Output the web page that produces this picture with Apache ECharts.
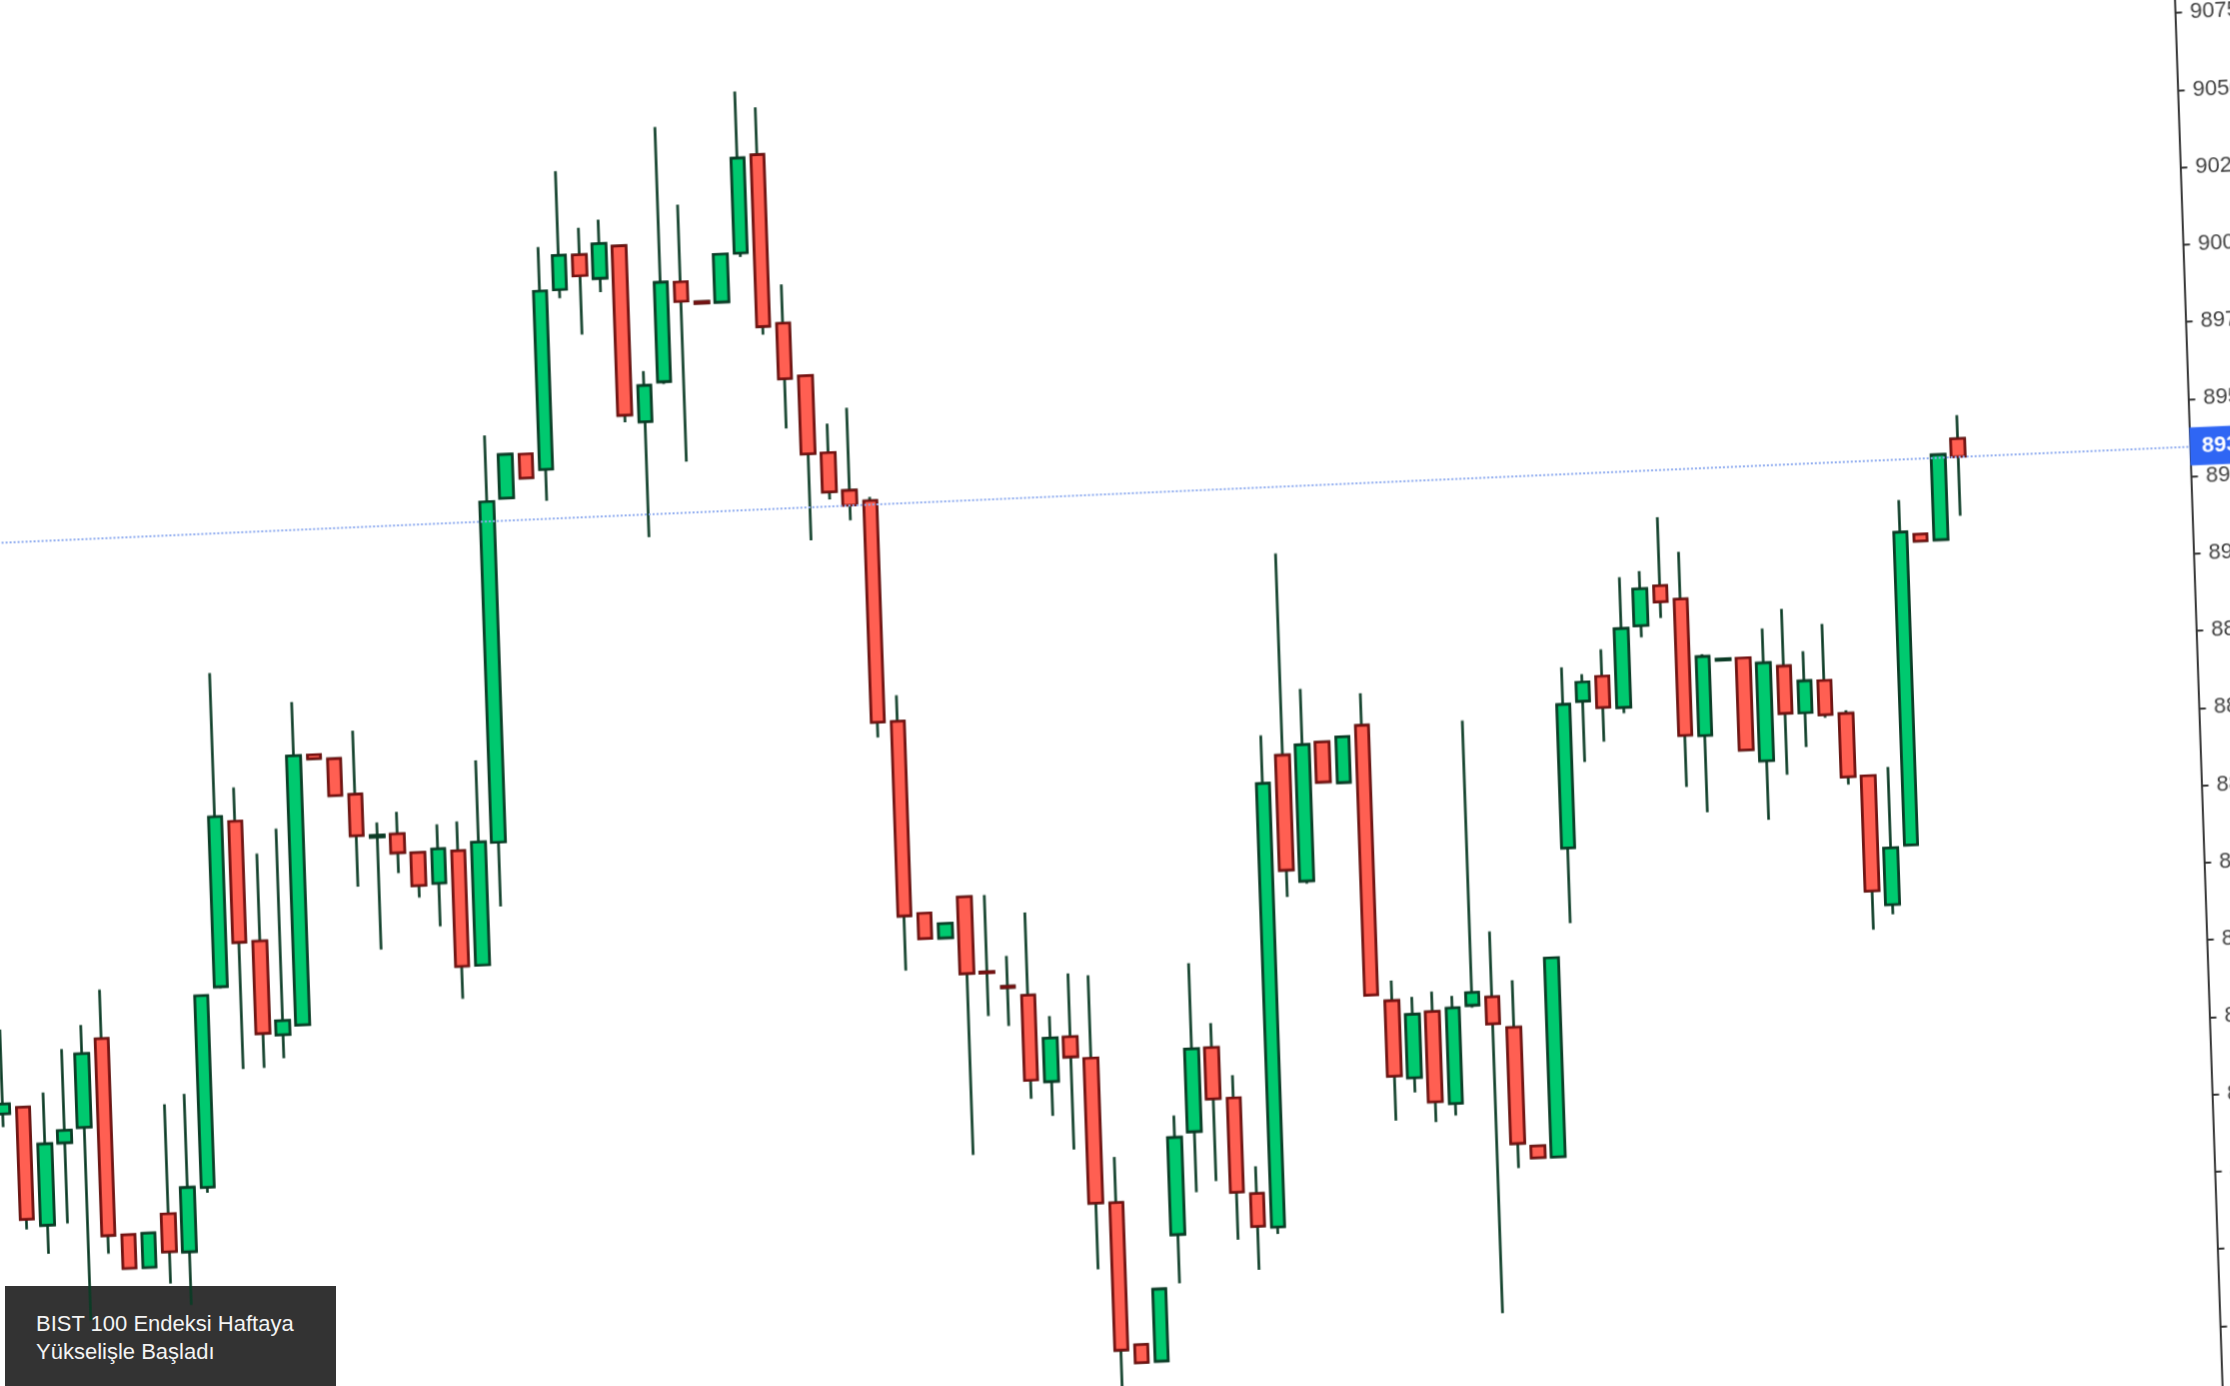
<!DOCTYPE html>
<html>
<head>
<meta charset="utf-8">
<title>BIST 100</title>
<script src="https://cdn.jsdelivr.net/npm/echarts@6.0.0/dist/echarts.min.js"></script>
<style>
  html, body { margin: 0; padding: 0; width: 2230px; height: 1386px; overflow: hidden; background: #fff; }
  /* the photo is slightly skewed: horizontals rise ~2.5deg, verticals lean ~2deg */
  #chart {
    position: absolute; left: -60px; top: 0; width: 2400px; height: 1540px; z-index: 2;
    transform-origin: 60px 0; transform: matrix(0.9985, -0.0438, 0.0343, 1, 0, 0);
  }
  #caption {
    position: absolute; left: 5px; top: 1286px; width: 300px; height: 76px; z-index: 1;
    padding: 24px 0 0 31px; background: #333333; color: #f4f4f4;
    font-family: "Liberation Sans", Arial, sans-serif; font-size: 22px; line-height: 28px;
  }
</style>
</head>
<body>
<div id="caption">BIST 100 Endeksi Haftaya<br>Yükselişle Başladı</div>
<div id="chart"></div>
<script>
// values (index points)
var opens  = [8750.0,8751.9,8713.4,8739.8,8744.5,8772.9,8709.2,8698.3,8715.4,8702.8,
              8723.4,8788.0,8841.3,8802.2,8771.6,8774.5,8861.7,8860.1,8848.3,8834.2,
              8834.9,8828.6,8818.4,8828.6,8791.3,8830.8,8941.9,8955.9,8950.6,9008.5,
              9019.5,9011.6,9021.8,8964.6,8977.3,9009.3,9002.6,9002.2,9017.8,9049.3,
              8994.5,8977.2,8952.0,8939.5,8935.9,8864.2,8801.8,8793.5,8806.5,8782.0,
              8777.0,8773.8,8745.6,8759.8,8752.6,8705.5,8659.3,8653.7,8694.4,8727.4,
              8754.3,8737.7,8706.5,8695.4,8847.8,8806.8,8851.5,8838.1,8856.3,8766.9,
              8741.7,8762.8,8732.8,8764.3,8766.7,8756.6,8717.9,8714.1,8813.8,8861.0,
              8868.8,8858.4,8884.6,8897.2,8892.6,8848.2,8872.3,8872.7,8839.1,8869.5,
              8854.1,8864.3,8853.3,8832.9,8790.9,8809.9,8910.2,8908.1,8940.5];
var closes = [8753.2,8715.6,8739.7,8743.8,8768.3,8709.2,8698.3,8709.4,8703.1,8723.6,
              8785.4,8843.0,8802.1,8772.3,8776.2,8861.6,8860.4,8848.2,8834.9,8834.7,
              8828.8,8817.9,8829.5,8791.2,8831.1,8941.0,8956.0,8948.1,9008.3,9019.6,
              9012.7,9022.8,8967.0,8976.3,9009.4,9003.0,9002.1,9017.7,9048.5,8993.7,
              8976.5,8951.9,8939.3,8934.7,8864.2,8801.2,8793.6,8798.2,8781.7,8781.6,
              8776.6,8746.3,8759.7,8753.3,8705.7,8657.8,8653.5,8677.0,8725.8,8754.2,
              8737.7,8707.2,8695.9,8838.9,8810.6,8850.9,8838.5,8852.9,8769.0,8742.5,
              8762.2,8733.6,8763.7,8768.4,8758.0,8719.0,8714.1,8778.5,8860.2,8867.2,
              8858.7,8883.9,8896.5,8892.0,8848.5,8873.7,8872.7,8842.9,8870.8,8854.2,
              8864.4,8853.2,8832.8,8795.6,8809.2,8911.1,8908.0,8935.6,8934.7];
var lows   = [8745.7,8712.3,8704.1,8713.7,8682.0,8703.3,8698.0,8698.0,8692.8,8685.6,
              8721.6,8787.5,8761.1,8761.2,8764.0,8774.2,8860.2,8848.0,8818.4,8797.8,
              8822.2,8814.0,8804.4,8780.7,8791.0,8810.0,8941.7,8947.9,8940.4,9005.7,
              8993.7,9007.1,8964.7,8927.2,8976.5,8951.1,9002.0,9002.0,9016.5,8991.1,
              8960.4,8923.9,8936.9,8929.8,8859.3,8783.5,8793.4,8793.3,8723.0,8767.7,
              8764.2,8740.3,8734.5,8723.3,8684.2,8645.0,8653.3,8653.5,8678.6,8707.8,
              8711.1,8691.8,8681.8,8693.1,8801.9,8805.9,8838.3,8837.9,8768.8,8728.1,
              8736.9,8727.0,8728.9,8763.5,8664.3,8711.0,8713.9,8713.9,8789.4,8841.3,
              8847.6,8856.5,8880.8,8886.8,8831.8,8823.3,8872.1,8842.7,8820.0,8834.3,
              8843.0,8852.2,8830.3,8783.0,8787.7,8809.7,8907.8,8907.9,8915.6];
var highs  = [8777.3,8752.3,8756.3,8770.1,8777.6,8788.8,8709.5,8709.6,8750.8,8753.9,
              8785.6,8889.5,8852.2,8830.5,8838.3,8879.0,8861.9,8860.3,8868.9,8838.9,
              8842.0,8828.8,8837.4,8838.1,8857.6,8962.4,8956.2,8956.1,9022.6,9046.8,
              9028.2,9030.6,9022.0,8981.0,9059.7,9034.3,9002.7,9017.9,9070.1,9064.6,
              9007.0,8977.4,8961.4,8966.2,8937.1,8872.6,8802.0,8798.4,8806.7,8806.8,
              8786.8,8800.6,8766.8,8780.3,8779.4,8720.3,8659.5,8677.2,8732.9,8781.9,
              8762.2,8745.1,8715.3,8854.5,8913.1,8869.0,8851.7,8853.1,8866.7,8773.4,
              8767.8,8769.3,8767.6,8856.4,8787.9,8771.8,8718.1,8778.7,8872.2,8869.7,
              8877.5,8900.5,8902.2,8919.4,8907.9,8874.5,8872.9,8872.9,8881.9,8888.0,
              8874.0,8882.6,8854.3,8833.1,8835.4,8921.5,8910.4,8935.8,8948.1];
// empty slots to the right of the last bar, before the price axis
var emptySlots = 11;
var priceMin = 8625, priceMax = 9100, priceStep = 25;

var categories = [];
for (var i = 0; i < opens.length + emptySlots; i++) {
  categories.push(i < opens.length ? 'B' + (i + 1) : '');
}
var full = [], bodies = [];
for (var j = 0; j < opens.length; j++) {
  full.push([opens[j], closes[j], lows[j], highs[j]]);
  bodies.push([opens[j], closes[j], Math.min(opens[j], closes[j]), Math.max(opens[j], closes[j])]);
}
var lastClose = closes[closes.length - 1];

var chart = echarts.init(document.getElementById('chart'), null, { renderer: 'canvas' });
var option = {
  animation: false,
  backgroundColor: 'transparent',
  grid: { left: 14.9, right: 165.5, top: 31, bottom: 41.5, containLabel: false, outerBoundsMode: 'none' },
  xAxis: {
    type: 'category', data: categories, boundaryGap: true,
    show: false
  },
  yAxis: {
    type: 'value', position: 'right', scale: true,
    min: priceMin, max: priceMax, interval: priceStep,
    axisLine: { show: true, lineStyle: { color: '#333', width: 2 } },
    axisTick: { show: true, length: 7, lineStyle: { color: '#333', width: 2 } },
    splitLine: { show: false },
    axisLabel: {
      margin: 15, fontSize: 22, color: '#3f3f3f',
      fontFamily: '"Liberation Sans", Arial, sans-serif',
      formatter: function (v) { return v.toFixed(2); }
    }
  },
  series: [{
    // wicks (dark green on every bar)
    name: 'wick', type: 'candlestick', data: full, barWidth: 14,
    itemStyle: { color: '#00c96f', color0: '#ff5f52', borderColor: '#0a3b25', borderColor0: '#0a3b25', borderWidth: 2.6 },
    markLine: {
      silent: true, symbol: ['none', 'none'],
      lineStyle: { color: '#8eabef', width: 2, type: 'dotted' },
      label: {
        show: true, position: 'end', distance: 0,
        formatter: function () { return lastClose.toFixed(2); },
        backgroundColor: '#2f66f4', color: '#fff', fontWeight: 'bold',
        fontSize: 22, lineHeight: 24, padding: [7, 12],
        fontFamily: '"Liberation Sans", Arial, sans-serif'
      },
      data: [{ yAxis: lastClose }]
    }
  }, {
    // bodies on top, with their own border colours
    name: 'body', type: 'candlestick', data: bodies, barWidth: 14,
    itemStyle: { color: '#00c96f', color0: '#ff5f52', borderColor: '#0a3b25', borderColor0: '#741010', borderWidth: 2.6 }
  }]
};
chart.setOption(option);
</script>
</body>
</html>
